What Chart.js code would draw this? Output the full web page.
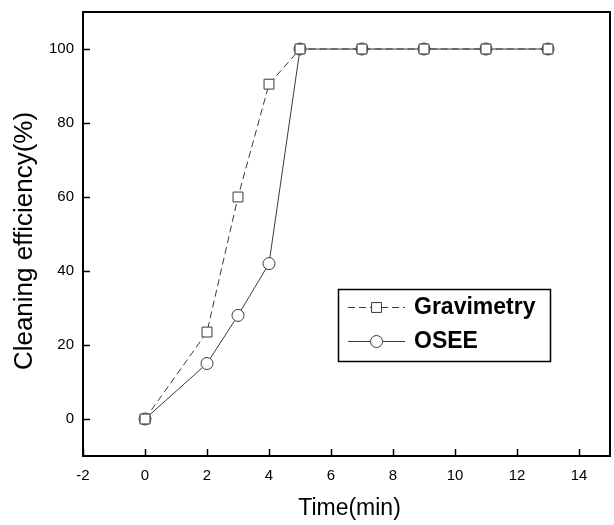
<!DOCTYPE html>
<html>
<head>
<meta charset="utf-8">
<script src="https://cdn.jsdelivr.net/npm/chart.js@4"></script>
<style>
  html, body { margin: 0; padding: 0; background: #fff; }
  #wrap { width: 614px; height: 525px; }
</style>
</head>
<body>
<div id="wrap"><canvas id="chart" width="614" height="525"></canvas></div>
<script>
// data
const timeMin = [0, 2, 3, 4, 5, 7, 9, 11, 13];
const gravimetry = [0, 23.5, 60, 90.5, 100, 100, 100, 100, 100];
const osee = [0, 15, 28, 42, 100, 100, 100, 100, 100];
const xTicks = [-2, 0, 2, 4, 6, 8, 10, 12, 14];
const yTicks = [0, 20, 40, 60, 80, 100];
const seriesNames = ['Gravimetry', 'OSEE'];

const FONT = "'Liberation Sans', Arial, sans-serif";
const INK = '#3a3a3a';

function toPoints(xs, ys) {
    return xs.map((x, i) => ({ x: x, y: ys[i] }));
}

function noEdgePadding(s) {
    s.paddingTop = 0;
    s.paddingBottom = 0;
    s.paddingLeft = 0;
    s.paddingRight = 0;
}

// box around the plot, inward ticks, axis titles and the legend
const framePlugin = {
    id: 'frame',
    afterDraw(chart) {
        const ctx = chart.ctx;
        const a = chart.chartArea;
        const xs = chart.scales.x, ys = chart.scales.y;
        ctx.save();
        ctx.strokeStyle = '#000';
        ctx.lineWidth = 2;
        ctx.strokeRect(a.left, a.top, a.right - a.left, a.bottom - a.top);

        ctx.lineWidth = 1.5;
        ctx.beginPath();
        xs.ticks.forEach(t => {
            const px = Math.round(xs.getPixelForValue(t.value)) + 0.5;
            ctx.moveTo(px, a.bottom);
            ctx.lineTo(px, a.bottom - 7);
        });
        ys.ticks.forEach(t => {
            const py = Math.round(ys.getPixelForValue(t.value)) + 0.5;
            ctx.moveTo(a.left, py);
            ctx.lineTo(a.left + 7, py);
        });
        ctx.stroke();

        // axis titles
        ctx.fillStyle = '#000';
        ctx.textAlign = 'center';
        ctx.textBaseline = 'middle';
        ctx.font = '23px ' + FONT;
        ctx.fillText('Time(min)', (a.left + a.right) / 2 + 3, 509);
        ctx.save();
        ctx.translate(25, 241);
        ctx.rotate(-Math.PI / 2);
        ctx.font = '26px ' + FONT;
        ctx.fillText('Cleaning efficiency(%)', 0, 0);
        ctx.restore();

        // legend
        ctx.lineWidth = 1.5;
        ctx.strokeStyle = '#000';
        ctx.strokeRect(338.5, 289.5, 212, 72);
        const rows = [307, 341];
        chart.data.datasets.forEach((ds, i) => {
            const y = rows[i];
            ctx.save();
            ctx.strokeStyle = ds.borderColor;
            ctx.lineWidth = 1;
            ctx.setLineDash(ds.borderDash || []);
            ctx.beginPath();
            ctx.moveTo(348, y + 0.5);
            ctx.lineTo(405, y + 0.5);
            ctx.stroke();
            ctx.setLineDash([]);
            ctx.fillStyle = '#fff';
            ctx.strokeStyle = ds.pointBorderColor;
            Chart.helpers.drawPoint(ctx, {
                pointStyle: ds.pointStyle,
                radius: ds.pointRadius,
                borderWidth: 1
            }, 376.5, y + 0.5);
            ctx.restore();
            ctx.fillStyle = '#000';
            ctx.textAlign = 'left';
            ctx.font = 'bold 23px ' + FONT;
            ctx.fillText(ds.label, 414, y + 1);
        });
        ctx.restore();
    }
};

new Chart(document.getElementById('chart'), {
    type: 'line',
    data: {
        datasets: [
            {
                label: seriesNames[0],
                data: toPoints(timeMin, gravimetry),
                borderColor: INK,
                borderWidth: 1,
                borderDash: [7, 4],
                pointStyle: 'rect',
                pointRadius: 7,
                pointBorderWidth: 1,
                pointBorderColor: INK,
                pointBackgroundColor: '#fff',
                fill: false,
                tension: 0
            },
            {
                label: seriesNames[1],
                data: toPoints(timeMin, osee),
                borderColor: INK,
                borderWidth: 1,
                pointStyle: 'circle',
                pointRadius: 6,
                pointBorderWidth: 1,
                pointBorderColor: INK,
                pointBackgroundColor: '#fff',
                fill: false,
                tension: 0
            }
        ]
    },
    options: {
        responsive: false,
        animation: false,
        events: [],
        layout: { autoPadding: false, padding: { top: 12, right: 4, left: 0, bottom: 0 } },
        plugins: {
            legend: { display: false },
            tooltip: { enabled: false }
        },
        scales: {
            x: {
                type: 'linear',
                min: -2,
                max: 15,
                afterBuildTicks: s => { s.ticks = xTicks.map(v => ({ value: v })); },
                afterFit: s => { s.height = 69; noEdgePadding(s); },
                grid: { display: false },
                border: { display: false },
                ticks: {
                    color: '#000',
                    font: { family: FONT, size: 15 },
                    padding: 3,
                    maxRotation: 0
                }
            },
            y: {
                min: -10,
                max: 110,
                afterBuildTicks: s => { s.ticks = yTicks.map(v => ({ value: v })); },
                afterFit: s => { s.width = 83; noEdgePadding(s); },
                grid: { display: false },
                border: { display: false },
                ticks: {
                    color: '#000',
                    font: { family: FONT, size: 15 },
                    padding: 1
                }
            }
        }
    },
    plugins: [framePlugin]
});
</script>
</body>
</html>
